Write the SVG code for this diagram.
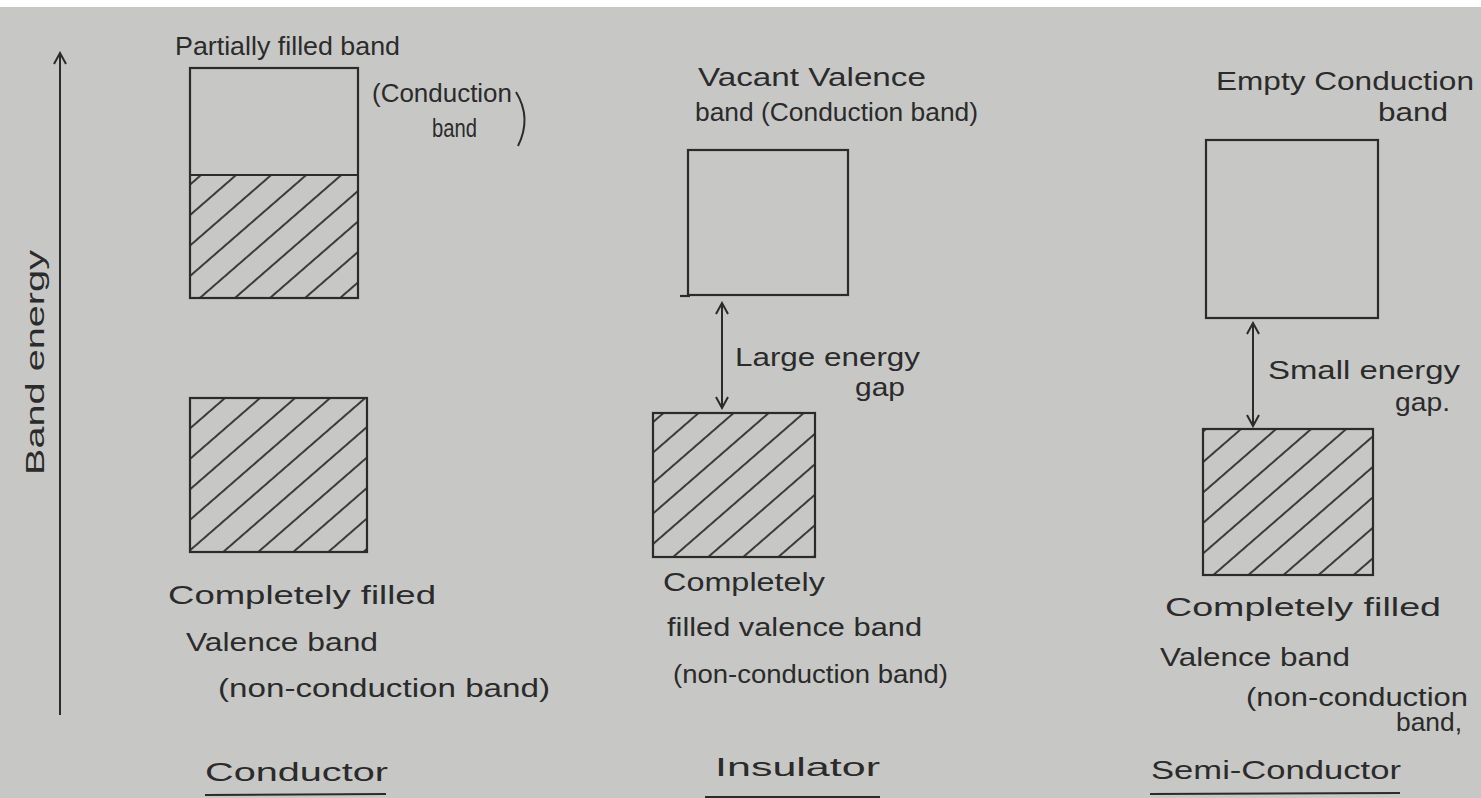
<svg xmlns="http://www.w3.org/2000/svg" width="1481" height="798" viewBox="0 0 1481 798">
<style>
.t{font-family:"Liberation Sans","DejaVu Sans",sans-serif;fill:#2b2b2b;font-size:25px}
.b{fill:none;stroke:#2b2b2b;stroke-width:2.2}
.c{stroke:#2b2b2b;stroke-width:2;fill:none}
</style>
<defs>
<pattern id="hatch" patternUnits="userSpaceOnUse" width="10" height="23" patternTransform="rotate(-41)">
<line x1="-5" y1="11" x2="15" y2="11" stroke="#2b2b2b" stroke-width="1.8"/>
</pattern>
<marker id="ah" markerWidth="14" markerHeight="14" refX="12" refY="7" orient="auto-start-reverse" markerUnits="userSpaceOnUse">
<path d="M1,1 L12,7 L1,13" fill="none" stroke="#2b2b2b" stroke-width="2"/>
</marker>
</defs>
<rect x="0" y="0" width="1481" height="798" fill="#c7c8c6"/>
<rect x="0" y="0" width="1481" height="7" fill="#ffffff"/>

<g id="connectors">
<line class="c" x1="60" y1="715" x2="60" y2="53" marker-end="url(#ah)"/>
<line class="c" x1="722" y1="303" x2="722" y2="408" marker-start="url(#ah)" marker-end="url(#ah)"/>
<line class="c" x1="1253" y1="323" x2="1253" y2="426" marker-start="url(#ah)" marker-end="url(#ah)"/>
</g>

<g id="axis-label">
<text class="t" transform="translate(44,475) rotate(-90)" textLength="225" lengthAdjust="spacingAndGlyphs" font-size="28">Band energy</text>
</g>

<g id="conductor-conduction-band">
<rect x="190" y="175" width="168" height="123" fill="url(#hatch)"/>
<rect class="b" x="190" y="68" width="168" height="230"/>
<line class="b" x1="190" y1="175" x2="358" y2="175"/>
<text class="t" x="175" y="55" textLength="225" lengthAdjust="spacingAndGlyphs">Partially filled band</text>
<text class="t" x="372" y="102" textLength="140" lengthAdjust="spacingAndGlyphs" font-size="22">(Conduction</text>
<text class="t" x="432" y="137" textLength="45" lengthAdjust="spacingAndGlyphs" font-size="22">band</text>
<path class="c" d="M516,92 Q532,118 518,146"/>
</g>

<g id="conductor-valence-band">
<rect x="190" y="398" width="177" height="154" fill="url(#hatch)"/>
<rect class="b" x="190" y="398" width="177" height="154"/>
<text class="t" x="168" y="604" textLength="268" lengthAdjust="spacingAndGlyphs">Completely filled</text>
<text class="t" x="186" y="651" textLength="192" lengthAdjust="spacingAndGlyphs" font-size="23">Valence band</text>
<text class="t" x="218" y="697" textLength="332" lengthAdjust="spacingAndGlyphs" font-size="23">(non-conduction band)</text>
</g>

<g id="conductor-title">
<text class="t" x="205" y="781" textLength="183" lengthAdjust="spacingAndGlyphs" font-size="27">Conductor</text>
<line class="c" x1="205" y1="795" x2="386" y2="794"/>
</g>

<g id="insulator-conduction-band">
<rect class="b" x="688" y="150" width="160" height="145"/>
<line class="b" x1="680" y1="296" x2="690" y2="296"/>
<text class="t" x="698" y="86" textLength="228" lengthAdjust="spacingAndGlyphs">Vacant Valence</text>
<text class="t" x="695" y="121" textLength="283" lengthAdjust="spacingAndGlyphs" font-size="23">band (Conduction band)</text>
</g>

<g id="insulator-gap-label">
<text class="t" x="735" y="366" textLength="185" lengthAdjust="spacingAndGlyphs">Large energy</text>
<text class="t" x="855" y="396" textLength="50" lengthAdjust="spacingAndGlyphs">gap</text>
</g>

<g id="insulator-valence-band">
<rect x="653" y="413" width="162" height="144" fill="url(#hatch)"/>
<rect class="b" x="653" y="413" width="162" height="144"/>
<text class="t" x="663" y="591" textLength="162" lengthAdjust="spacingAndGlyphs" font-size="26">Completely</text>
<text class="t" x="667" y="636" textLength="255" lengthAdjust="spacingAndGlyphs">filled valence band</text>
<text class="t" x="673" y="683" textLength="275" lengthAdjust="spacingAndGlyphs" font-size="23">(non-conduction band)</text>
</g>

<g id="insulator-title">
<text class="t" x="715" y="776" textLength="165" lengthAdjust="spacingAndGlyphs" font-size="27">Insulator</text>
<line class="c" x1="705" y1="797" x2="880" y2="797"/>
</g>

<g id="semiconductor-conduction-band">
<rect class="b" x="1206" y="140" width="172" height="178"/>
<text class="t" x="1216" y="90" textLength="258" lengthAdjust="spacingAndGlyphs" font-size="23">Empty Conduction</text>
<text class="t" x="1378" y="121" textLength="70" lengthAdjust="spacingAndGlyphs" font-size="21">band</text>
</g>

<g id="semiconductor-gap-label">
<text class="t" x="1268" y="379" textLength="192" lengthAdjust="spacingAndGlyphs">Small energy</text>
<text class="t" x="1395" y="411" textLength="55" lengthAdjust="spacingAndGlyphs">gap.</text>
</g>

<g id="semiconductor-valence-band">
<rect x="1203" y="429" width="170" height="146" fill="url(#hatch)"/>
<rect class="b" x="1203" y="429" width="170" height="146"/>
<text class="t" x="1165" y="616" textLength="276" lengthAdjust="spacingAndGlyphs" font-size="27">Completely filled</text>
<text class="t" x="1160" y="666" textLength="190" lengthAdjust="spacingAndGlyphs" font-size="23">Valence band</text>
<text class="t" x="1246" y="706" textLength="222" lengthAdjust="spacingAndGlyphs" font-size="23">(non-conduction</text>
<text class="t" x="1396" y="731" textLength="66" lengthAdjust="spacingAndGlyphs" font-size="20">band,</text>
</g>

<g id="semiconductor-title">
<text class="t" x="1151" y="779" textLength="250" lengthAdjust="spacingAndGlyphs" font-size="26">Semi-Conductor</text>
<line class="c" x1="1150" y1="794" x2="1400" y2="793"/>
</g>
</svg>
